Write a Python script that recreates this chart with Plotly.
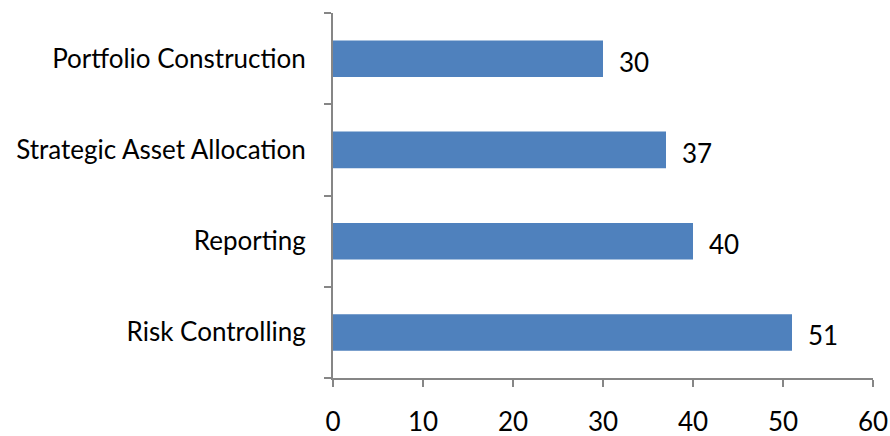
import plotly.graph_objects as go

categories = ["Risk Controlling", "Reporting", "Strategic Asset Allocation", "Portfolio Construction"]
values = [51, 40, 37, 30]
x_ticks = [0, 10, 20, 30, 40, 50, 60]

FONT = "Lato"
FS = 26
AXIS = "#868686"

fig = go.Figure()
fig.add_trace(go.Bar(
    x=values, y=categories, orientation="h",
    marker=dict(color="#4F81BD", line=dict(width=0)),
    hoverinfo="skip",
))

for c, v in zip(categories, values):
    fig.add_annotation(x=v, y=c, text=str(v), showarrow=False,
                       xanchor="left", xshift=14, yshift=-3,
                       font=dict(family=FONT, size=FS, color="#000000"))

fig.update_layout(
    width=890, height=436,
    margin=dict(l=333, r=17, t=13, b=58, autoexpand=False),
    paper_bgcolor="white", plot_bgcolor="white",
    bargap=0.6, showlegend=False,
    font=dict(family=FONT, size=FS, color="#000000"),
)
fig.update_xaxes(
    range=[0, 60], tickvals=x_ticks, ticktext=[str(t) for t in x_ticks],
    showgrid=False, zeroline=False, showline=True, linecolor=AXIS, linewidth=2,
    ticks="outside", ticklen=7, tickcolor=AXIS, tickwidth=2,
    ticklabelstandoff=13, automargin=False,
)
fig.update_yaxes(
    categoryorder="array", categoryarray=categories,
    showgrid=False, zeroline=False, showline=True, linecolor=AXIS, linewidth=2,
    ticks="outside", ticklen=7, tickcolor=AXIS, tickwidth=2,
    tickson="boundaries", ticklabelstandoff=20, automargin=False,
)

# remove the default 8px page margin so the figure fills the window exactly
fig.write_html(
    "out.html",
    config={"displayModeBar": False},
    post_script="document.body.style.margin='0';document.body.style.overflow='hidden';",
)
